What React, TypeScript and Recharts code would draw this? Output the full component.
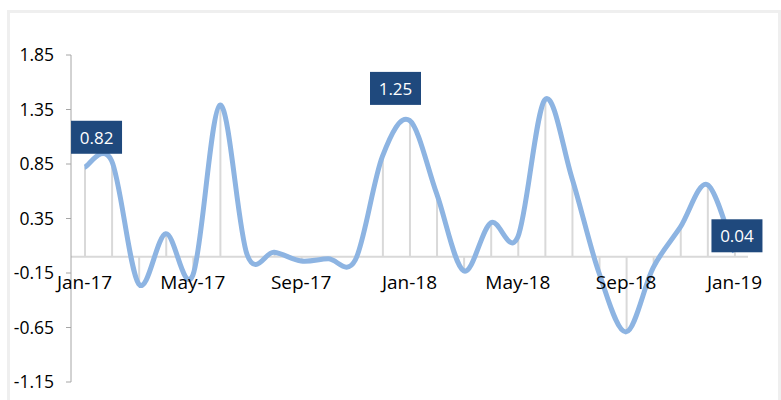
import React from 'react';
import {
  ComposedChart,
  Line,
  Bar,
  XAxis,
  YAxis,
  ReferenceLine,
  ReferenceDot,
  LabelList,
} from 'recharts';

// ---- data ----
const months = [
  'Jan-17', 'Feb-17', 'Mar-17', 'Apr-17', 'May-17', 'Jun-17', 'Jul-17', 'Aug-17', 'Sep-17', 'Oct-17', 'Nov-17', 'Dec-17',
  'Jan-18', 'Feb-18', 'Mar-18', 'Apr-18', 'May-18', 'Jun-18', 'Jul-18', 'Aug-18', 'Sep-18', 'Oct-18', 'Nov-18', 'Dec-18',
  'Jan-19',
];
const values = [
  0.82, 0.88, -0.25, 0.21, -0.17, 1.39, 0.02, 0.04, -0.04, -0.02, -0.03, 0.92,
  1.25, 0.58, -0.13, 0.31, 0.18, 1.44, 0.72, -0.15, -0.69, -0.1, 0.27, 0.66,
  0.04,
];
const xTickLabels = ['Jan-17', 'May-17', 'Sep-17', 'Jan-18', 'May-18', 'Sep-18', 'Jan-19'];
const yTicks = [-1.15, -0.65, -0.15, 0.35, 0.85, 1.35, 1.85];
const labeledMonths = ['Jan-17', 'Jan-18', 'Jan-19'];

const data = months.map((m, i) => ({ month: m, value: values[i] }));

// ---- styles ----
const FONT = '"Open Sans", "Noto Sans", sans-serif';
const LINE_COLOR = '#8db4e2';
const LABEL_BG = '#1f497d';
const labelOffsets: Record<string, [number, number]> = {
  'Jan-17': [12, -30],
  'Jan-18': [-14, -32],
  'Jan-19': [2.5, -16.5],
};

// Catmull-Rom style smoothing (similar to spreadsheet "smoothed line")
const smoothCurve = (context: any) => {
  let pts: number[][] = [];
  return {
    areaStart() {},
    areaEnd() {},
    lineStart() {
      pts = [];
    },
    lineEnd() {
      const n = pts.length;
      if (!n) return;
      context.moveTo(pts[0][0], pts[0][1]);
      if (n === 1) return;
      for (let i = 0; i < n - 1; i++) {
        const p0 = pts[i - 1] || pts[i];
        const p1 = pts[i];
        const p2 = pts[i + 1];
        const p3 = pts[i + 2] || p2;
        const c1x = p1[0] + (p2[0] - p0[0]) / 6;
        const c1y = p1[1] + (p2[1] - p0[1]) / 6;
        const c2x = p2[0] - (p3[0] - p1[0]) / 6;
        const c2y = p2[1] - (p3[1] - p1[1]) / 6;
        context.bezierCurveTo(c1x, c1y, c2x, c2y, p2[0], p2[1]);
      }
    },
    point(x: number, y: number) {
      pts.push([+x, +y]);
    },
  };
};

const ValueLabel = (props: any) => {
  const { x, y, index } = props;
  const item = data[index];
  if (!item || !labeledMonths.includes(item.month)) return null;
  const [dx, dy] = labelOffsets[item.month] || [0, -30];
  const w = 51;
  const h = 33;
  const cx = x + dx;
  const cy = y + dy;
  return (
    <g>
      <rect x={cx - w / 2} y={cy - h / 2} width={w} height={h} fill={LABEL_BG} />
      <text
        x={cx}
        y={cy}
        fill="#ffffff"
        fontSize={17}
        fontFamily={FONT}
        textAnchor="middle"
        dominantBaseline="central"
      >
        {item.value.toFixed(2)}
      </text>
    </g>
  );
};

export default function App() {
  return (
    <div
      style={{
        position: 'absolute',
        left: 0,
        top: 0,
        width: 781,
        height: 400,
        overflow: 'hidden',
        background: '#ffffff',
      }}
    >
      <div
        style={{
          position: 'absolute',
          left: 7,
          top: 10,
          width: 768,
          height: 420,
          border: '3px solid #efefef',
        }}
      />
      <div style={{ position: 'absolute', left: 0, top: 0 }}>
        <ComposedChart
          width={781}
          height={400}
          data={data}
          margin={{ top: 55, right: 33, bottom: 18, left: 0 }}
        >
          <XAxis dataKey="month" hide />
          <YAxis
            width={71}
            domain={[-1.15, 1.85]}
            ticks={yTicks}
            allowDataOverflow
            interval={0}
            tickFormatter={(v: number) => v.toFixed(2)}
            tick={{ fill: '#000000', fontSize: 17.5, fontFamily: FONT }}
            axisLine={{ stroke: '#a6a6a6', strokeWidth: 1 }}
            tickLine={{ stroke: '#a6a6a6' }}
            tickSize={5}
            tickMargin={12}
          />
          <ReferenceLine y={0} stroke="#d9d9d9" strokeWidth={2} />
          <Bar dataKey="value" barSize={2} fill="#d9d9d9" isAnimationActive={false} />
          <Line
            dataKey="value"
            type={smoothCurve as any}
            stroke={LINE_COLOR}
            strokeWidth={5}
            dot={false}
            activeDot={false}
            isAnimationActive={false}
          >
            <LabelList dataKey="value" content={<ValueLabel />} />
          </Line>
          {xTickLabels.map((m) => (
            <ReferenceDot
              key={m}
              x={m}
              y={0}
              r={0}
              fill="none"
              stroke="none"
              label={{
                value: m,
                position: 'bottom',
                offset: 19,
                fill: '#000000',
                fontSize: 19,
                fontFamily: FONT,
              }}
            />
          ))}
        </ComposedChart>
      </div>
    </div>
  );
}
